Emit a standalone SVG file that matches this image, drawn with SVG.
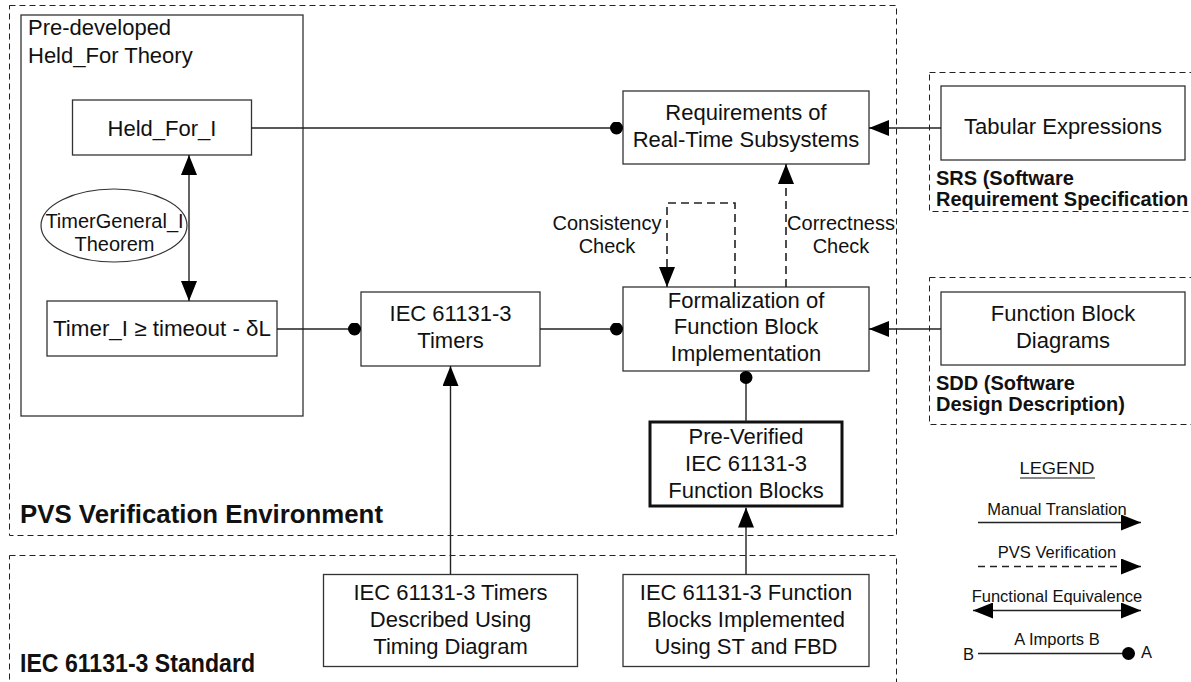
<svg xmlns="http://www.w3.org/2000/svg" width="1191" height="682" viewBox="0 0 1191 682">
  <style>
    text { font-family: "Liberation Sans", Arial, sans-serif; fill: #111; }
    .t22 { font-size: 22px; text-anchor: middle; }
    .t20 { font-size: 20px; text-anchor: middle; }
    .lbl { font-size: 20px; font-weight: bold; }
    .big { font-size: 25px; font-weight: bold; }
    .leg { font-size: 16.5px; text-anchor: middle; }
    .box { fill: #fff; stroke: #333; stroke-width: 1.3; }
    .thick { fill: #fff; stroke: #111; stroke-width: 3; }
    .zone { fill: none; stroke: #222; stroke-width: 1; stroke-dasharray: 6 4; }
    .ln { fill: none; stroke: #222; stroke-width: 1.4; }
    .dash { fill: none; stroke: #222; stroke-width: 1.6; stroke-dasharray: 8 5; }
  </style>
  <defs>
    <marker id="tri" viewBox="0 0 20 16" refX="20" refY="8" markerWidth="20" markerHeight="16" markerUnits="userSpaceOnUse" orient="auto-start-reverse">
      <path d="M0,0 L20,8 L0,16 z" fill="#000"/>
    </marker>
    <marker id="dot" viewBox="0 0 13 13" refX="13" refY="6.5" markerWidth="13" markerHeight="13" markerUnits="userSpaceOnUse" orient="auto">
      <circle cx="6.5" cy="6.5" r="6.5" fill="#000"/>
    </marker>
  </defs>

  <!-- environment zones -->
  <g id="zone-pvs">
    <rect class="zone" x="9.5" y="5.5" width="887" height="530"/>
    <text class="big" x="20" y="523" textLength="363" lengthAdjust="spacingAndGlyphs">PVS Verification Environment</text>
  </g>
  <g id="zone-iec">
    <rect class="zone" x="9.5" y="555.5" width="887" height="140"/>
    <text class="big" x="20" y="672" font-size="24" textLength="235" lengthAdjust="spacingAndGlyphs">IEC 61131-3 Standard</text>
  </g>
  <g id="zone-srs">
    <rect class="zone" x="929.5" y="72.5" width="280" height="139"/>
    <text class="lbl" x="936" y="185">SRS (Software</text>
    <text class="lbl" x="936" y="206">Requirement Specification</text>
  </g>
  <g id="zone-sdd">
    <rect class="zone" x="929.5" y="277.5" width="280" height="147"/>
    <text class="lbl" x="936" y="390">SDD (Software</text>
    <text class="lbl" x="936" y="411">Design Description)</text>
  </g>

  <!-- held_for theory -->
  <g id="theory">
    <rect class="box" x="21" y="15" width="282" height="401"/>
    <text x="28" y="35" font-size="22">Pre-developed</text>
    <text x="28" y="63" font-size="22">Held_For Theory</text>
  </g>
  <g id="held-for">
    <rect class="box" x="72.5" y="100" width="179" height="55"/>
    <text class="t22" x="162" y="136">Held_For_I</text>
  </g>
  <g id="timer-cond">
    <rect class="box" x="47" y="301" width="230" height="55"/>
    <text class="t22" x="162" y="336" textLength="218" lengthAdjust="spacingAndGlyphs">Timer_I ≥ timeout - δL</text>
  </g>
  <g id="theorem">
    <ellipse cx="114" cy="225.5" rx="73" ry="36.5" fill="#fff" stroke="#333" stroke-width="1.2"/>
    <text class="t20" x="114.5" y="227.5">TimerGeneral_I</text>
    <text class="t20" x="114.5" y="250.5">Theorem</text>
  </g>

  <!-- main nodes -->
  <g id="requirements">
    <rect class="box" x="623" y="91" width="246" height="73"/>
    <text class="t22" x="746" y="120">Requirements of</text>
    <text class="t22" x="746" y="147">Real-Time Subsystems</text>
  </g>
  <g id="tabular">
    <rect class="box" x="941" y="86" width="244" height="74"/>
    <text class="t22" x="1063" y="134">Tabular Expressions</text>
  </g>
  <g id="timers">
    <rect class="box" x="361" y="292" width="179" height="74"/>
    <text class="t22" x="450.5" y="321">IEC 61131-3</text>
    <text class="t22" x="450.5" y="347.5">Timers</text>
  </g>
  <g id="formalization">
    <rect class="box" x="623" y="287" width="246" height="84"/>
    <text class="t22" x="746" y="307.5">Formalization of</text>
    <text class="t22" x="746" y="334">Function Block</text>
    <text class="t22" x="746" y="360.5">Implementation</text>
  </g>
  <g id="fbd">
    <rect class="box" x="941" y="292" width="244" height="73"/>
    <text class="t22" x="1063" y="321">Function Block</text>
    <text class="t22" x="1063" y="347.5">Diagrams</text>
  </g>
  <g id="preverified">
    <rect class="thick" x="650" y="422" width="192" height="84"/>
    <text class="t22" x="746" y="444">Pre-Verified</text>
    <text class="t22" x="746" y="471">IEC 61131-3</text>
    <text class="t22" x="746" y="497.5">Function Blocks</text>
  </g>
  <g id="timers-spec">
    <rect class="box" x="323.5" y="574.5" width="254" height="92"/>
    <text class="t22" x="450.5" y="599.5">IEC 61131-3 Timers</text>
    <text class="t22" x="450.5" y="626.5">Described Using</text>
    <text class="t22" x="450.5" y="653.5">Timing Diagram</text>
  </g>
  <g id="fb-spec">
    <rect class="box" x="623" y="574.5" width="246" height="92"/>
    <text class="t22" x="746" y="599.5">IEC 61131-3 Function</text>
    <text class="t22" x="746" y="626.5">Blocks Implemented</text>
    <text class="t22" x="746" y="653.5">Using ST and FBD</text>
  </g>

  <!-- connectors -->
  <g id="connectors">
    <line class="ln" x1="251.5" y1="128" x2="623" y2="128" marker-end="url(#dot)"/>
    <line class="ln" x1="941" y1="128" x2="869" y2="128" marker-end="url(#tri)"/>
    <line class="ln" x1="277" y1="329" x2="361" y2="329" marker-end="url(#dot)"/>
    <line class="ln" x1="540" y1="329" x2="623" y2="329" marker-end="url(#dot)"/>
    <line class="ln" x1="941" y1="329" x2="869" y2="329" marker-end="url(#tri)"/>
    <line class="ln" x1="746" y1="422" x2="746" y2="371" marker-end="url(#dot)"/>
    <line class="ln" x1="450.5" y1="574.5" x2="450.5" y2="366" marker-end="url(#tri)"/>
    <line class="ln" x1="746" y1="574.5" x2="746" y2="507.5" marker-end="url(#tri)"/>
    <line class="ln" x1="189" y1="155" x2="189" y2="301" marker-start="url(#tri)" marker-end="url(#tri)"/>
    <path class="dash" d="M735,287 V203 H667 V287" marker-end="url(#tri)"/>
    <line class="dash" x1="786" y1="287" x2="786" y2="164" marker-end="url(#tri)"/>
    <text class="t20" x="607" y="230">Consistency</text>
    <text class="t20" x="607" y="253">Check</text>
    <text class="t20" x="841" y="230">Correctness</text>
    <text class="t20" x="841" y="253">Check</text>
  </g>

  <!-- legend -->
  <g id="legend">
    <text class="leg" x="1057" y="474" font-size="17" textLength="75" lengthAdjust="spacingAndGlyphs">LEGEND</text>
    <line x1="1020" y1="478" x2="1095" y2="478" stroke="#111" stroke-width="1"/>
    <text class="leg" x="1057" y="515">Manual Translation</text>
    <line class="ln" x1="978" y1="522.5" x2="1141" y2="522.5" marker-end="url(#tri)" stroke="#000"/>
    <text class="leg" x="1057" y="558">PVS Verification</text>
    <line class="ln" x1="978" y1="566.5" x2="1141" y2="566.5" stroke-dasharray="7 5" marker-end="url(#tri)"/>
    <text class="leg" x="1057" y="602">Functional Equivalence</text>
    <line class="ln" x1="973" y1="610.5" x2="1141" y2="610.5" marker-start="url(#tri)" marker-end="url(#tri)"/>
    <text class="leg" x="1057" y="645">A Imports B</text>
    <line class="ln" x1="978" y1="653.5" x2="1135" y2="653.5" marker-end="url(#dot)"/>
    <text class="leg" x="968.5" y="660">B</text>
    <text class="leg" x="1146.5" y="658">A</text>
  </g>
</svg>
